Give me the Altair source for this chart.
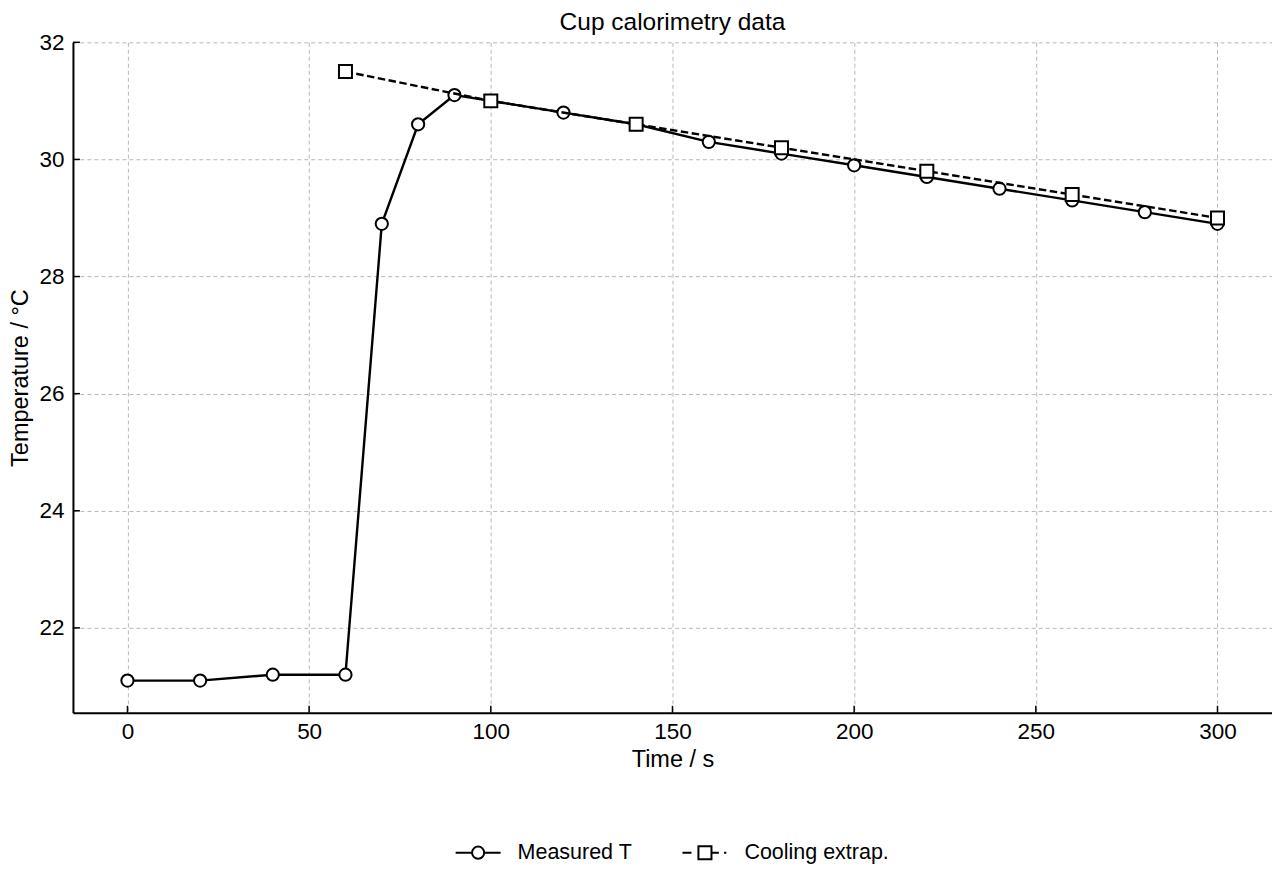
import altair as alt
import pandas as pd

# measured cup temperatures
time_s = [0, 20, 40, 60, 70, 80, 90, 100, 120, 140, 160, 180, 200, 220, 240, 260, 280, 300]
temp_c = [21.1, 21.1, 21.2, 21.2, 28.9, 30.6, 31.1, 31.0, 30.8, 30.6, 30.3, 30.1, 29.9, 29.7, 29.5, 29.3, 29.1, 28.9]

# back-extrapolated cooling line
extrap_time = [60, 100, 140, 180, 220, 260, 300]
extrap_temp = [31.5, 31.0, 30.6, 30.2, 29.8, 29.4, 29.0]

series_names = ["Measured T", "Cooling extrap."]
x_ticks = [0, 50, 100, 150, 200, 250, 300]
y_ticks = [22, 24, 26, 28, 30, 32]

FONT = "Liberation Sans"
W, H = 1200, 671
X_DOM = [-15, 315]
Y_DOM = [20.55, 32.0]

measured = pd.DataFrame({"time": time_s, "temp": temp_c})
extrap = pd.DataFrame({"time": extrap_time, "temp": extrap_temp})

xs = alt.Scale(domain=X_DOM, nice=False, zero=False)
ys = alt.Scale(domain=Y_DOM, nice=False, zero=False)

x_axis = alt.Axis(values=x_ticks, format="d", title="Time / s", ticks=False, labelPadding=8,
                  titlePadding=4, grid=True)
y_axis = alt.Axis(values=y_ticks, format="d", title="Temperature / °C", ticks=False, labelPadding=9,
                  titlePadding=6, grid=True)

X = alt.X("time:Q", scale=xs, axis=x_axis)
Y = alt.Y("temp:Q", scale=ys, axis=y_axis)

m_line = alt.Chart(measured).mark_line(color="black", strokeWidth=2.4).encode(x=X, y=Y)
m_pts = alt.Chart(measured).mark_point(
    shape="circle", size=150, filled=True, fill="white", stroke="black", strokeWidth=2, opacity=1
).encode(x="time:Q", y="temp:Q")

e_line = alt.Chart(extrap).mark_line(color="black", strokeWidth=2.4, strokeDash=[7.5, 3.5]).encode(
    x="time:Q", y="temp:Q")
e_pts = alt.Chart(extrap).mark_point(
    shape="square", size=169, filled=True, fill="white", stroke="black", strokeWidth=2, opacity=1
).encode(x="time:Q", y="temp:Q")

# inward tick marks
xt = alt.Chart(pd.DataFrame({"t": x_ticks})).mark_rule(color="black", strokeWidth=1.5).encode(
    x=alt.X("t:Q", scale=xs), y=alt.value(H), y2=alt.value(H - 7))
yt = alt.Chart(pd.DataFrame({"t": y_ticks})).mark_rule(color="black", strokeWidth=1.5).encode(
    y=alt.Y("t:Q", scale=ys), x=alt.value(0), x2=alt.value(7))

# legend with line+marker handles
circle_handle = ("M-1,0H-0.27M0.27,0H1"
                 "M-0.27,0A0.27,0.27,0,1,1,0.27,0A0.27,0.27,0,1,1,-0.27,0Z")
square_handle = ("M-1,0H-0.6M0.29,0H0.62M0.85,0H0.95"
                 "M-0.29,-0.29H0.29V0.29H-0.29Z")
leg_df = pd.DataFrame({"series": series_names, "time": [0, 0], "temp": [0, 0]})
leg = alt.Chart(leg_df).transform_filter("datum.temp > 100").mark_point(
    filled=False, color="black", strokeWidth=2, opacity=1
).encode(
    x="time:Q", y="temp:Q",
    shape=alt.Shape("series:N",
                    scale=alt.Scale(domain=series_names, range=[circle_handle, square_handle]),
                    legend=alt.Legend(title=None, orient="none", legendX=382, legendY=787,
                                      direction="horizontal", symbolSize=2025,
                                      symbolStrokeWidth=2, symbolStrokeColor="black",
                                      symbolOpacity=1,
                                      labelFontSize=21.5, labelFont=FONT, labelColor="black",
                                      labelOffset=16, columnPadding=46, padding=0)),
)

chart = (
    alt.layer(m_line, m_pts, e_line, e_pts, xt, yt, leg)
    .properties(
        width=W, height=H,
        title=alt.TitleParams("Cup calorimetry data", fontSize=24.5, font=FONT, fontWeight="normal",
                              color="black", anchor="middle", offset=-4),
        autosize=alt.AutoSizeParams(type="none"),
        padding={"left": 65, "top": 34, "right": 0, "bottom": 160},
    )
    .configure_view(stroke=None)
    .configure_axis(
        labelFont=FONT, titleFont=FONT, labelFontSize=22.5, titleFontSize=23.5,
        labelColor="black", titleColor="black", titleFontWeight="normal",
        domainColor="black", domainWidth=2,
        gridColor="#b8b8b8", gridDash=[4, 3], gridWidth=1,
    )
)

chart.save("out.html", embed_options={"renderer": "svg", "actions": False})
